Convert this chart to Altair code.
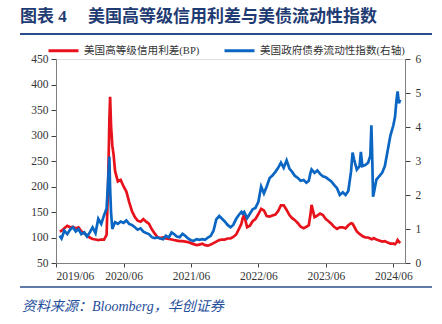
import altair as alt
import pandas as pd

dates = ["2019-06-21","2019-07-01","2019-07-16","2019-08-01","2019-08-16","2019-09-01","2019-09-16","2019-10-01","2019-10-16","2019-11-01","2019-11-16","2019-12-01","2019-12-16",
"2020-01-01","2020-01-16","2020-02-01","2020-02-16","2020-03-01","2020-03-09","2020-03-16","2020-03-20","2020-03-25","2020-04-01","2020-04-08","2020-04-16","2020-05-01","2020-05-16","2020-06-01","2020-06-16","2020-07-01","2020-07-16","2020-08-01","2020-08-16","2020-09-01","2020-09-16","2020-10-01","2020-10-16","2020-11-01","2020-11-16","2020-12-01","2020-12-16",
"2021-01-01","2021-01-16","2021-02-01","2021-02-16","2021-03-01","2021-03-16","2021-04-01","2021-04-16","2021-05-01","2021-05-16","2021-06-01","2021-06-16","2021-07-01","2021-07-16","2021-08-01","2021-08-16","2021-09-01","2021-09-16","2021-10-01","2021-10-16","2021-11-01","2021-11-16","2021-12-01","2021-12-16",
"2022-01-01","2022-01-16","2022-02-01","2022-02-16","2022-03-01","2022-03-08","2022-03-16","2022-04-01","2022-04-16","2022-05-01","2022-05-16","2022-06-01","2022-06-16","2022-07-01","2022-07-16","2022-08-01","2022-08-16","2022-09-01","2022-09-16","2022-10-01","2022-10-16","2022-11-01","2022-11-16","2022-12-01","2022-12-16",
"2023-01-01","2023-01-16","2023-02-01","2023-02-16","2023-03-01","2023-03-10","2023-03-16","2023-04-01","2023-04-16","2023-05-01","2023-05-16","2023-06-01","2023-06-16","2023-07-01","2023-07-16","2023-08-01","2023-08-16","2023-09-01","2023-09-16","2023-10-01","2023-10-16","2023-10-24","2023-11-01","2023-11-16","2023-12-01","2023-12-08","2023-12-16",
"2024-01-01","2024-01-16","2024-01-28","2024-02-03","2024-02-08","2024-02-12","2024-02-16","2024-03-01","2024-03-16","2024-04-01","2024-04-16","2024-05-01","2024-05-16","2024-06-01","2024-06-10","2024-06-18","2024-06-24","2024-07-01","2024-07-08"]

# US high-grade credit spread (BP, left axis)
spread = [112,113,118,123,120,121,118,120,112,108,104,100,97,
96,95,96,96,105,200,330,376,320,280,262,230,210,213,200,190,170,152,140,133,131,136,131,127,116,108,101,99,
100,98,97,96,95,94,93,93,92,91,89,87,85,86,88,85,84,86,89,92,95,96,96,98,
98,101,106,117,127,138,144,120,123,132,136,146,156,153,142,141,143,145,152,163,163,154,144,138,134,
128,121,118,121,124,145,164,140,143,147,144,136,132,127,121,117,120,120,118,124,128,127,122,112,107,105,103,
100,100,98,97,97,98,99,96,94,92,93,90,88,88,87,90,95,92,89]

# US government securities liquidity index (right axis)
liquidity = [0.8,0.72,0.95,0.85,0.98,1.05,0.93,1.0,0.85,0.9,0.78,0.9,1.05,
0.88,1.3,1.15,1.4,1.6,2.4,3.13,2.2,1.5,1.0,1.1,1.2,1.15,1.22,1.18,1.25,1.15,1.12,1.05,0.98,1.02,0.92,0.88,0.85,0.76,0.73,0.75,0.72,
0.7,0.8,0.75,0.9,0.85,0.78,0.76,0.86,0.8,0.72,0.67,0.65,0.7,0.68,0.7,0.68,0.75,0.8,0.95,1.28,1.38,1.3,1.22,1.12,
1.05,1.12,1.3,1.42,1.5,1.45,1.5,1.32,1.45,1.58,1.62,1.8,2.25,2.05,2.25,2.5,2.57,2.68,2.8,2.95,2.8,3.02,2.78,2.68,2.56,
2.5,2.42,2.44,2.36,2.42,2.65,2.75,2.65,2.72,2.62,2.55,2.52,2.46,2.4,2.3,2.2,2.0,2.08,2.0,2.12,2.7,3.25,3.05,2.75,2.85,3.27,2.85,
2.88,2.95,3.15,4.05,3.0,1.95,2.05,2.45,2.55,2.65,2.85,3.3,3.75,4.05,4.3,4.8,5.05,4.7,4.8]

RED_NAME = "美国高等级信用利差(BP)"
BLUE_NAME = "美国政府债券流动性指数(右轴)"
TITLE = "图表 4　 美国高等级信用利差与美债流动性指数"
SOURCE = "资料来源：Bloomberg，华创证券"

left_ticks = [50, 100, 150, 200, 250, 300, 350, 400, 450]
right_ticks = [0, 1, 2, 3, 4, 5, 6]
tick_years = [2019, 2020, 2021, 2022, 2023, 2024]

FONT = "'Liberation Serif', 'Noto Sans CJK SC'"
RED = "#E8121C"
BLUE = "#0A66C2"
NAVY = "#1F3B73"

df_red = pd.DataFrame({"date": dates, "value": spread, "series": RED_NAME})
df_blue = pd.DataFrame({"date": dates, "value": liquidity, "series": BLUE_NAME})

x_enc = alt.X(
    "date:T",
    scale=alt.Scale(
        type="utc",
        domain=[alt.DateTime(year=2019, month=6, date=1, utc=True),
                alt.DateTime(year=2024, month=8, date=3, utc=True)],
    ),
    axis=alt.Axis(
        values=[alt.DateTime(year=y, month=6, date=1, utc=True) for y in tick_years],
        labelExpr="utcFormat(datum.value, '%Y/%m')", title=None, grid=False,
        tickSize=4, labelPadding=3, domainColor="#808080", tickColor="#404040",
        labelFont=FONT, labelFontSize=11.5, labelColor="#333333",
    ),
)

color_enc = alt.Color(
    "series:N",
    scale=alt.Scale(domain=[RED_NAME, BLUE_NAME], range=[RED, BLUE]),
    legend=alt.Legend(
        orient="none", legendX=-9, legendY=-25, direction="horizontal",
        title=None, symbolType="stroke", symbolSize=900, symbolStrokeWidth=3,
        labelFont=FONT, labelFontSize=10.6, labelColor="#333333",
        labelOffset=4, columnPadding=18, padding=0, labelLimit=300,
    ),
)

red = alt.Chart(df_red).mark_line(strokeWidth=2.7).encode(
    x=x_enc,
    y=alt.Y("value:Q",
            scale=alt.Scale(domain=[50, 450], nice=False, zero=False),
            axis=alt.Axis(values=left_ticks, title=None, orient="left", grid=False,
                          tickSize=5, labelPadding=3, domainColor="#808080",
                          tickColor="#404040", labelFont=FONT, labelFontSize=11.5,
                          labelColor="#333333")),
    color=color_enc,
)

blue = alt.Chart(df_blue).mark_line(strokeWidth=2.7).encode(
    x=x_enc,
    y=alt.Y("value:Q",
            scale=alt.Scale(domain=[0, 6], nice=False, zero=False),
            axis=alt.Axis(values=right_ticks, title=None, orient="right", grid=False,
                          tickSize=5, labelPadding=5, domainColor="#808080",
                          tickColor="#404040", labelFont=FONT, labelFontSize=11.5,
                          labelColor="#333333")),
    color=color_enc,
)

lines = alt.layer(red, blue).resolve_scale(y="independent")

title_txt = alt.Chart(pd.DataFrame({"t": [TITLE]})).mark_text(
    align="left", baseline="middle", font=FONT, fontSize=17, fontWeight="bold", color=NAVY
).encode(text="t:N", x=alt.value(-36), y=alt.value(-42))

top_rule = alt.Chart(pd.DataFrame({"t": [0]})).mark_rule(color="#2B4C8C", strokeWidth=2).encode(
    x=alt.value(-36), x2=alt.value(376), y=alt.value(-25)
)

bottom_rule = alt.Chart(pd.DataFrame({"t": [0]})).mark_rule(color="#2B4C8C", strokeWidth=1.5).encode(
    x=alt.value(-36), x2=alt.value(376), y=alt.value(228)
)

source_txt = alt.Chart(pd.DataFrame({"t": [SOURCE]})).mark_text(
    align="left", baseline="middle", font=FONT, fontSize=14, fontStyle="italic", color="#1F4E9A"
).encode(text="t:N", x=alt.value(-34), y=alt.value(248))

chart = alt.layer(lines, title_txt, top_rule, bottom_rule, source_txt).properties(
    width=349, height=204,
    autosize=alt.AutoSizeParams(type="none"),
    padding={"left": 56, "top": 59, "right": 37, "bottom": 61},
).configure_view(stroke=None).configure(background="white")

chart.save("out.html", embed_options={"renderer": "svg", "actions": False})
